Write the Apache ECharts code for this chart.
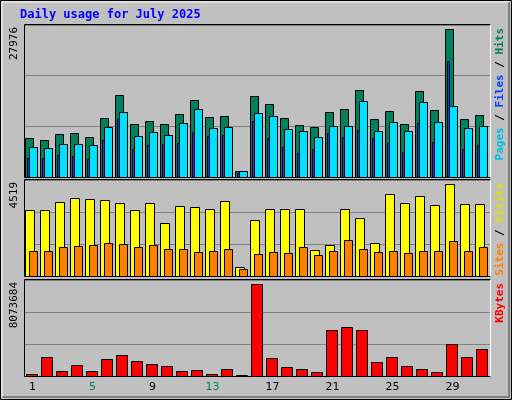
<!DOCTYPE html>
<html><head><meta charset="utf-8">
<script src="https://cdn.jsdelivr.net/npm/echarts@6/dist/echarts.min.js"></script>
<style>html,body{margin:0;padding:0;background:#c0c0c0}#c{width:512px;height:400px}</style>
</head><body><div id="c"></div>
<script>
const days = ['1','2','3','4','5','6','7','8','9','10','11','12','13','14','15','16','17','18','19','20','21','22','23','24','25','26','27','28','29','30','31'];
const weekend = ['5','6','12','13','19','20','26','27'];
const hits = [7469,7090,8229,8419,7659,11267,15445,10128,10698,10128,12027,14495,11457,11647,1203,15255,13926,11267,9938,9558,12407,12976,16394,11077,12596,10128,16204,12786,27976,11077,11837];
const files = [3671,3671,4241,4051,3481,7090,11077,5380,6140,6330,6520,8609,7849,8039,823,10698,7469,5760,4621,5380,8419,7659,8988,7469,6520,4811,10318,6710,21902,5380,6140];
const pages = [5760,5570,6330,6330,6140,9558,12407,7849,8609,8039,10318,12976,9368,9558,1203,12217,11647,9178,8799,7659,9748,9748,14306,8799,10508,8799,14116,10508,13546,9368,9748];
const visits = [3242,3242,3635,3831,3782,3733,3586,3242,3586,2603,3438,3389,3291,3684,442,2751,3291,3291,3291,1277,1523,3291,2849,1621,4028,3586,3929,3487,4519,3536,3536];
const sites = [1228,1228,1424,1473,1523,1621,1572,1424,1523,1326,1326,1179,1228,1326,344,1080,1179,1130,1424,1031,1228,1768,1326,1179,1228,1130,1228,1228,1719,1228,1424];
const kbytes = [206000,1709000,471000,1002000,471000,1532000,1886000,1355000,1090000,913000,471000,560000,206000,648000,88000,8073684,1621000,825000,648000,383000,4007000,4273000,4007000,1267000,1709000,913000,648000,383000,2770000,1709000,2416000];
const maxLabels = ['27976','4519','8073684'];

const chart = echarts.init(document.getElementById('c'));
function barSeries(data, gi, color, a, b, z) {
  return {
    type: 'custom', xAxisIndex: gi, yAxisIndex: gi, z: z,
    data: data.map((v, i) => [i, v]),
    renderItem: function (params, api) {
      const top = api.coord([api.value(0), api.value(1)]);
      const base = api.coord([api.value(0), 0]);
      const bw = api.size([1, 0])[0];
      const left = top[0] - bw / 2;
      const x1 = Math.round(left + bw * a), x2 = Math.round(left + bw * b);
      return { type: 'rect', shape: { x: x1 + 0.5, y: Math.round(top[1]) + 0.5, width: x2 - x1, height: Math.round(base[1]) - Math.round(top[1]) },
        style: { fill: color, stroke: '#000', lineWidth: 1 } };
    }
  };
}
const grids = [
  { left: 25, right: 22, top: 25, height: 152 },
  { left: 25, right: 22, top: 180, height: 96 },
  { left: 25, right: 22, top: 280, height: 96 }
];
const maxes = [28800, 4715, 8436000];
const xAxes = grids.map((g, i) => ({
  type: 'category', gridIndex: i, data: days, boundaryGap: true,
  axisLine: { show: false }, axisTick: { show: false },
  axisLabel: i === 2 ? {
    show: true, margin: 6, fontFamily: 'DejaVu Sans', fontSize: 11, color: '#000',
    formatter: v => weekend.includes(v) ? '{w|' + v + '}' : v,
    rich: { w: { color: '#00805c', fontFamily: 'DejaVu Sans', fontSize: 11 } }
  } : { show: false }
}));
const yAxes = grids.map((g, i) => ({
  type: 'value', gridIndex: i, min: 0, max: maxes[i], interval: maxes[i] / 3,
  axisLabel: { show: false }, axisLine: { show: false }, axisTick: { show: false },
  splitLine: { show: true, lineStyle: { color: '#808080', width: 1 } }
}));
const frames = grids.map(g => ({
  type: 'rect', z: 100, silent: true,
  shape: { x: 24.5, y: g.top - 0.5, width: 466, height: g.height + 1 },
  style: { fill: 'none', stroke: '#000', lineWidth: 1 }
}));
const frameHi = grids.map(g => ({
  type: 'polyline', z: 101, silent: true,
  shape: { points: [[490.5, g.top - 0.5], [490.5, g.top + g.height + 0.5]] },
  style: { stroke: '#fff', lineWidth: 1 }
}));
const leftLabels = grids.map((g, i) => ({
  type: 'text', z: 100, x: 14, y: g.top + 2, rotation: Math.PI / 2,
  style: { text: maxLabels[i], fontFamily: 'DejaVu Sans Mono', fontSize: 11, fill: '#000', align: 'right', verticalAlign: 'middle' }
}));
function rightLabel(g, parts) {
  return { type: 'text', z: 100, x: 500, y: g.top + 3, rotation: Math.PI / 2,
    style: { text: parts.map(p => '{' + p[0] + '|' + p[1] + '}').join(''), align: 'right', verticalAlign: 'middle',
      rich: Object.fromEntries(parts.map(p => [p[0], { fill: p[2], fontFamily: 'DejaVu Sans Mono', fontWeight: 'bold', fontSize: 11 }])) } };
}
chart.setOption({
  backgroundColor: '#c0c0c0',
  animation: false,
  grid: grids,
  xAxis: xAxes,
  yAxis: yAxes,
  graphic: [
    { type: 'rect', silent: true, shape: { x: 0.5, y: 0.5, width: 511, height: 399 }, style: { fill: 'none', stroke: '#000', lineWidth: 1 } },
    { type: 'polyline', silent: true, shape: { points: [[2, 397], [509, 397], [509, 2]] }, style: { stroke: '#808080', lineWidth: 2 } },
    { type: 'polyline', silent: true, shape: { points: [[2, 397], [2, 2], [509, 2]] }, style: { stroke: '#ffffff', lineWidth: 1 } },
    { type: 'text', x: 20, y: 15, style: { text: 'Daily usage for July 2025', fontFamily: 'DejaVu Sans Mono', fontWeight: 'bold', fontSize: 12, fill: '#0000ff', verticalAlign: 'middle' } },
    ...frames, ...frameHi, ...leftLabels,
    rightLabel(grids[0], [['p', 'Pages', '#00c0e0'], ['s', ' / ', '#000'], ['f', 'Files', '#0040ff'], ['t', ' / ', '#000'], ['h', 'Hits', '#00805c']]),
    rightLabel(grids[1], [['s', 'Sites', '#ff8000'], ['a', ' / ', '#000'], ['v', 'Visits', '#e0e000']]),
    rightLabel(grids[2], [['k', 'KBytes', '#ff0000']])
  ],
  series: [
    barSeries(hits, 0, '#00805c', 0.02, 0.51, 2),
    barSeries(files, 0, '#0040ff', 0.11, 0.27, 3),
    barSeries(pages, 0, '#00e0ff', 0.29, 0.78, 4),
    barSeries(visits, 1, '#ffff00', 0.02, 0.57, 2),
    barSeries(sites, 1, '#ff8000', 0.29, 0.78, 3),
    barSeries(kbytes, 2, '#ff0000', 0.09, 0.78, 2)
  ]
});
</script></body></html>
